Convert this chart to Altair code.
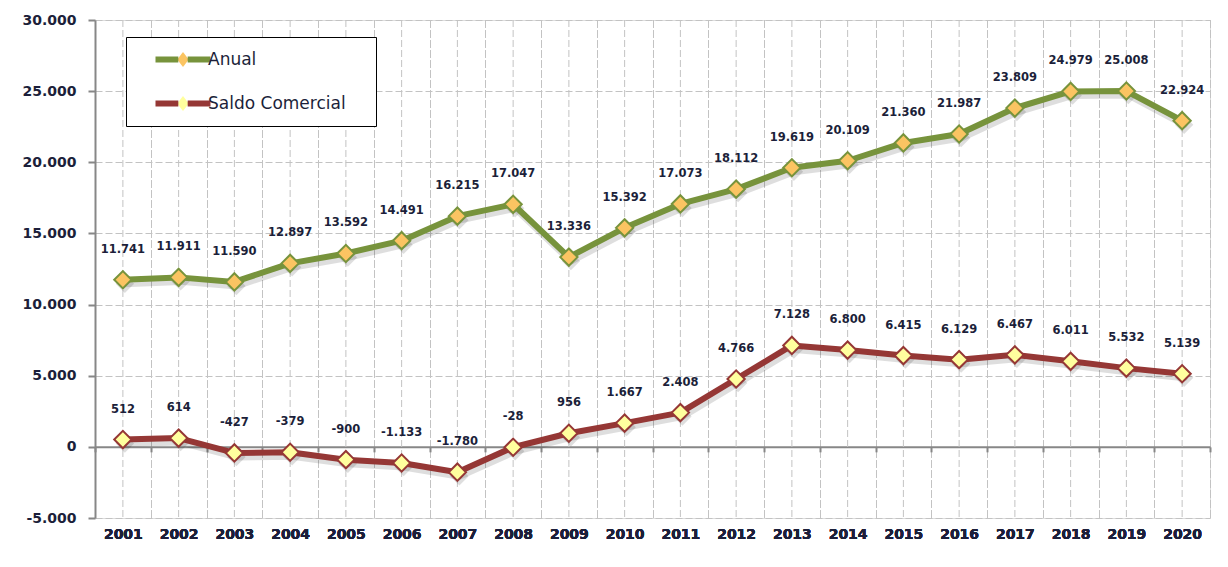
import altair as alt
import pandas as pd

years = [str(y) for y in range(2001, 2021)]
anual = [11741, 11911, 11590, 12897, 13592, 14491, 16215, 17047, 13336, 15392,
         17073, 18112, 19619, 20109, 21360, 21987, 23809, 24979, 25008, 22924]
saldo = [512, 614, -427, -379, -900, -1133, -1780, -28, 956, 1667,
         2408, 4766, 7128, 6800, 6415, 6129, 6467, 6011, 5532, 5139]
series_names = ["Anual", "Saldo Comercial"]
y_ticks = [-5000, 0, 5000, 10000, 15000, 20000, 25000, 30000]

line_colors = ["#77933C", "#953735"]
diamond_fills = ["#FBC462", "#FFFF9E"]
text_color = "#1c1f3a"
grid_color = "#c3c3c3"
axis_color = "#878787"
FONT = "DejaVu Sans"

rows = []
for s, vals in zip(series_names, [anual, saldo]):
    for yr, v in zip(years, vals):
        rows.append({"year": yr, "value": v, "series": s, "serie_fill": s})
df = pd.DataFrame(rows)
years_df = pd.DataFrame({"year": years})

x_scale = alt.Scale(type="band", paddingInner=0, paddingOuter=0)
y_scale = alt.Scale(domain=[-5000, 30000], nice=False, zero=False)

# Centre gridlines + zero-line axis with ticks
centers = alt.Chart(years_df).mark_rule(
    color=grid_color, strokeWidth=1, strokeDash=[7, 3]
).encode(
    x=alt.X("year:O", scale=x_scale, axis=alt.Axis(
        orient="bottom", offset=-71.14, labels=False, title=None, grid=False,
        domain=True, domainColor=axis_color, domainWidth=2,
        ticks=True, tickBand="extent", tickSize=5, tickColor=axis_color, tickWidth=2))
)

x_axis = alt.Axis(
    orient="bottom", title=None, labelAngle=0, domain=False, ticks=False, grid=True,
    gridColor=grid_color, gridDash=[7, 3], gridWidth=1, tickBand="extent",
    labelFont=FONT, labelFontSize=14, labelFontWeight="bold", labelColor=text_color,
    labelPadding=9)
y_axis = alt.Axis(
    title=None, values=y_ticks, format=",d", grid=True, gridColor=grid_color,
    gridDash=[7, 3], gridWidth=1, domain=True, domainColor=axis_color, domainWidth=2,
    ticks=True, tickSize=7, tickColor=axis_color, tickWidth=2,
    labelFont=FONT, labelFontSize=14, labelFontWeight="bold", labelColor=text_color,
    labelPadding=12)

base = alt.Chart(df).encode(
    x=alt.X("year:O", scale=x_scale, axis=x_axis),
    y=alt.Y("value:Q", scale=y_scale, axis=y_axis),
)

legend_common = dict(
    title=None, orient="none", legendX=31, legendY=17, symbolSize=121,
    symbolOffset=34.5, padding=14, labelLimit=400,
    labelFontSize=17, labelFont=FONT,
)

shadow_line = base.mark_line(strokeWidth=7, strokeCap="round", strokeJoin="round",
                             color="#000000", opacity=0.13, xOffset=2, yOffset=4).encode(
    detail="series:N")
shadow_pts = base.mark_point(shape="diamond", filled=True, size=340, color="#000000",
                             opacity=0.13, xOffset=2, yOffset=4)

# line legend (on top, no box); the line symbol leaves a gap for the diamond
lines = base.mark_line(strokeWidth=6, strokeCap="round", strokeJoin="round").encode(
    stroke=alt.Stroke("series:N", scale=alt.Scale(range=line_colors), legend=alt.Legend(
        symbolType="M-5,0H-0.85M0.85,0H5", symbolStrokeWidth=6, labelColor=text_color,
        labelOffset=16.5, rowPadding=19, zindex=2, **legend_common))
)

# diamond legend (below, draws the framed box); its spacer label sits at the box's right end
points = base.mark_point(shape="diamond", filled=True, size=300, strokeWidth=2, opacity=1).encode(
    fill=alt.Fill("serie_fill:N", scale=alt.Scale(range=diamond_fills), legend=alt.Legend(
        symbolType="M0,-1.35L1.05,0L0,1.35L-1.05,0Z", symbolStrokeWidth=0, rowPadding=26,
        labelColor="transparent", fillColor="white", strokeColor="black", zindex=1,
        labelOffset=159.5, labelExpr="'0'", **legend_common)),
    stroke=alt.condition(alt.datum.series == "Anual", alt.value(line_colors[0]), alt.value(line_colors[1])),
)

labels = base.mark_text(dy=-30, font=FONT, fontSize=11.5, fontWeight="bold", color=text_color).encode(
    text=alt.Text("value:Q", format=",d")
)

chart = alt.layer(centers, shadow_line, shadow_pts, lines, points, labels).resolve_axis(x="independent").properties(
    width=1115, height=498,
    padding={"left": 87, "top": 12, "right": 10, "bottom": 40},
    autosize=alt.AutoSizeParams(type="none"),
).configure_view(stroke=None).configure(
    locale={"number": {"decimal": ",", "thousands": ".", "grouping": [3],
                       "currency": ["", ""], "minus": "-"}}
)

chart.save("out.html", embed_options={"renderer": "svg", "actions": False})
